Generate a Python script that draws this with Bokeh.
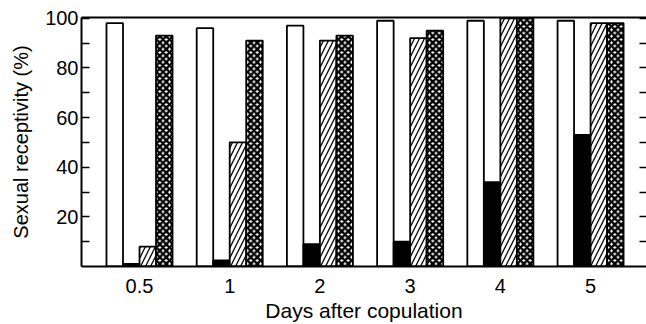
import numpy as np
from bokeh.plotting import figure
from bokeh.models import Range1d, FixedTicker, LinearAxis
from bokeh.embed import file_html
from bokeh.resources import INLINE

# ---- data ----
days = ["0.5", "1", "2", "3", "4", "5"]
white_vals = [98, 96, 97, 99, 99, 99]
black_vals = [1, 2.5, 9, 10, 34, 53]
hatched_vals = [8, 50, 91, 92, 100, 98]
dotted_vals = [93, 91, 93, 95, 100, 98]
y_ticks = [20, 40, 60, 80, 100]
y_minor = [10, 30, 50, 70, 90]

FONT = "Liberation Sans"
pos = np.arange(len(days))
w = 0.183

p = figure(width=646, height=324, output_backend="svg", toolbar_location=None,
           x_range=Range1d(-0.643, 5.62), y_range=Range1d(0, 100.3),
           min_border_left=81, min_border_right=0, min_border_top=17, min_border_bottom=57)
p.xgrid.visible = False
p.ygrid.visible = False
p.outline_line_color = None
p.background_fill_color = "white"
p.border_fill_color = "white"

common = dict(width=w, bottom=0, line_color="black", line_width=1.8)
p.vbar(x=pos - 1.5 * w, top=white_vals, fill_color="white", **common)
p.vbar(x=pos - 0.5 * w, top=black_vals, fill_color="black", **common)
p.vbar(x=pos + 0.5 * w, top=hatched_vals, fill_color="white",
       hatch_pattern="/", hatch_color="black", hatch_scale=10, hatch_weight=1.3, **common)
p.vbar(x=pos + 1.5 * w, top=dotted_vals, fill_color="white",
       hatch_pattern="x", hatch_color="black", hatch_scale=6.5, hatch_weight=2.4, **common)

# x axis
xa = p.xaxis[0]
xa.ticker = FixedTicker(ticks=list(pos))
xa.major_label_overrides = {int(i): d for i, d in zip(pos, days)}
xa.major_tick_line_color = None
xa.minor_tick_line_color = None
xa.axis_line_width = 2
xa.axis_line_color = "black"
xa.major_label_standoff = 6
xa.major_label_text_font = FONT
xa.major_label_text_font_size = "20px"
xa.major_label_text_color = "black"
xa.axis_label = "Days after copulation"
xa.axis_label_text_font = FONT
xa.axis_label_text_font_size = "21px"
xa.axis_label_text_font_style = "normal"
xa.axis_label_text_color = "black"
xa.axis_label_standoff = 3

# y axis
ya = p.yaxis[0]
ya.ticker = FixedTicker(ticks=y_ticks, minor_ticks=y_minor)
ya.major_tick_in = 8
ya.major_tick_out = 0
ya.minor_tick_in = 8
ya.minor_tick_out = 0
ya.major_tick_line_width = 1.5
ya.minor_tick_line_width = 1.5
ya.major_tick_line_color = "black"
ya.minor_tick_line_color = "black"
ya.axis_line_width = 2
ya.axis_line_color = "black"
ya.major_label_standoff = 3
ya.major_label_text_font = FONT
ya.major_label_text_font_size = "20px"
ya.major_label_text_color = "black"
ya.axis_label = "Sexual receptivity (%)"
ya.axis_label_text_font = FONT
ya.axis_label_text_font_size = "20px"
ya.axis_label_text_font_style = "normal"
ya.axis_label_text_color = "black"
ya.axis_label_standoff = 10

# top frame line
top = LinearAxis(ticker=FixedTicker(ticks=[]), axis_line_width=2, axis_line_color="black",
                 major_tick_line_color=None, minor_tick_line_color=None)
p.add_layout(top, "above")

# right ticks (axis line lies off the edge)
right = LinearAxis(ticker=FixedTicker(ticks=y_ticks, minor_ticks=y_minor),
                   axis_line_color=None, major_tick_in=7, major_tick_out=0,
                   minor_tick_in=7, minor_tick_out=0,
                   major_tick_line_width=1.5, minor_tick_line_width=1.5,
                   major_tick_line_color="black", minor_tick_line_color="black",
                   major_label_overrides={t: "" for t in y_ticks},
                   major_label_standoff=0)
p.add_layout(right, "right")

open("out.html", "w").write(file_html(p, INLINE))
